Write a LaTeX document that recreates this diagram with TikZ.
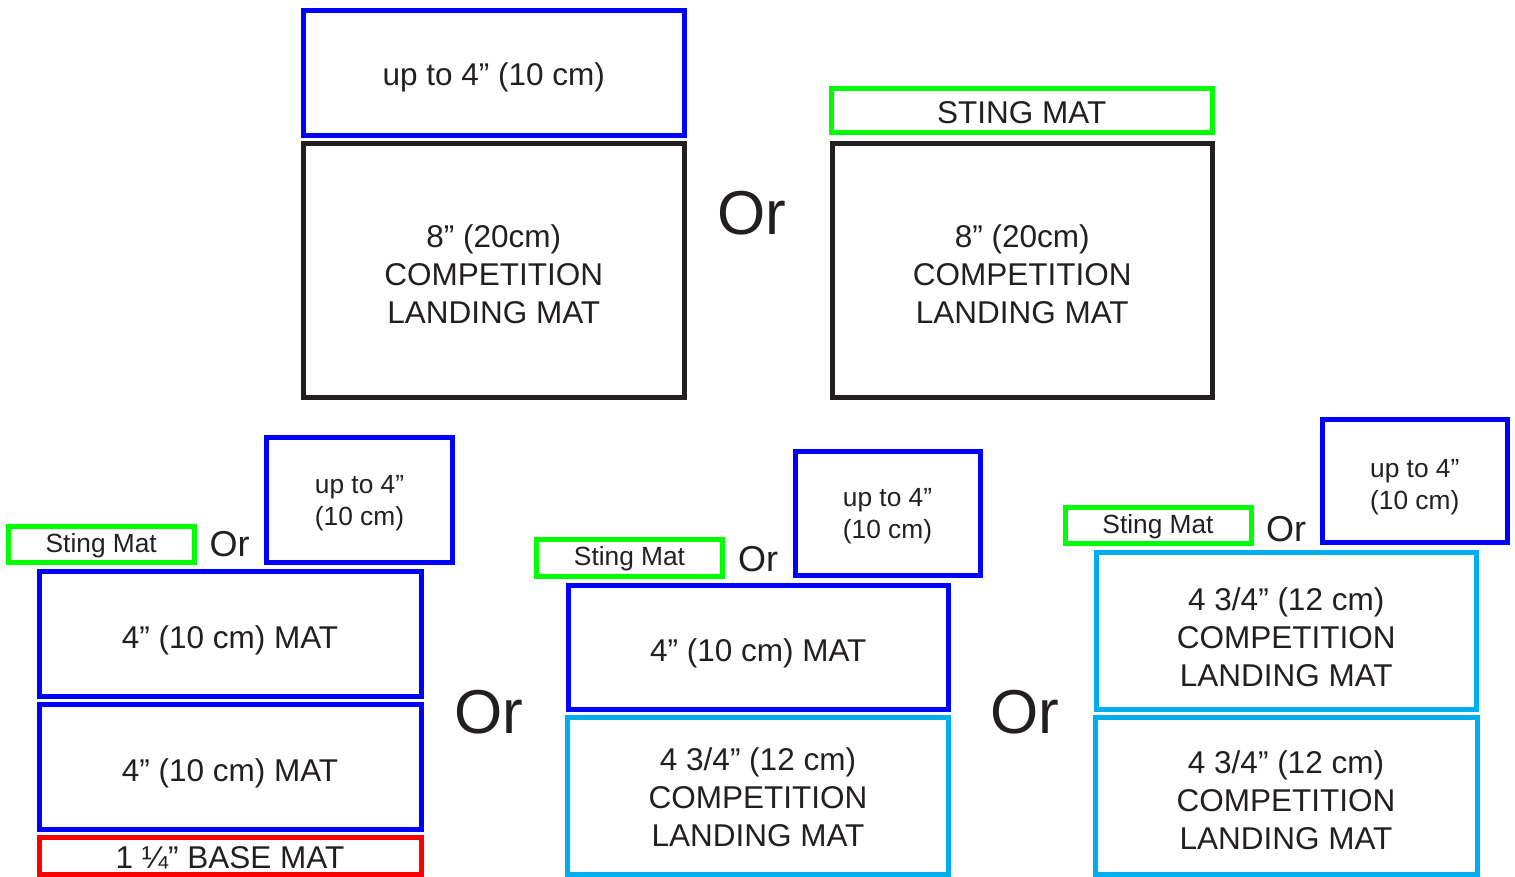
\documentclass[tikz,border=0pt]{standalone}
\usepackage{fontspec}
\setmainfont{Liberation Sans}
\definecolor{ink}{HTML}{231F20}
\definecolor{mblue}{HTML}{0000FF}
\definecolor{mgreen}{HTML}{00FF00}
\definecolor{mred}{HTML}{FF0000}
\definecolor{mcyan}{HTML}{00AEEF}
\begin{document}
\begin{tikzpicture}[x=1pt,y=-1pt,
  matbox/.style={draw, rectangle, line width=5pt, inner sep=0pt},
  bigtxt/.style={inner sep=0pt, align=center, text=ink, font=\fontsize{31.5}{38}\selectfont},
  smalltxt/.style={inner sep=0pt, align=center, text=ink, font=\fontsize{26.3}{32}\selectfont},
  ortext/.style={inner sep=0pt, text=ink, font=\fontsize{36}{40}\selectfont},
  bigor/.style={inner sep=0pt, text=ink, font=\fontsize{62}{70}\selectfont},
  sz/.style 2 args={minimum width=#1pt, minimum height=#2pt}]
\useasboundingbox (0,0) rectangle (1515,877);
% top row
\node[matbox, draw=mblue, sz={380.5}{125}] (tlup) at (493.75,73.5) {};
\node[bigtxt] (tlupt) at ([yshift=-4pt]tlup.center) {up to 4” (10 cm)};
\node[matbox, draw=ink, sz={380.5}{253}] (tlmat) at (493.75,270.5) {};
\node[bigtxt] (tlmatt) at ([yshift=-4pt]tlmat.center) {8” (20cm)\\COMPETITION\\LANDING MAT};
\node[bigor] (or1) at (752,213) {Or};
\node[matbox, draw=mgreen, sz={381.5}{44}] (trsting) at (1021.75,110.5) {};
\node[bigtxt] (trstingt) at ([yshift=-2pt]trsting.center) {STING MAT};
\node[matbox, draw=ink, sz={380.5}{253}] (trmat) at (1022.25,270.5) {};
\node[bigtxt] (trmatt) at ([yshift=-4pt]trmat.center) {8” (20cm)\\COMPETITION\\LANDING MAT};
% bottom left group
\node[matbox, draw=mgreen, sz={185.5}{36.5}] (lsting) at (101.25,544.25) {};
\node[smalltxt] (lstingt) at ([yshift=-1pt]lsting.center) {Sting Mat};
\node[ortext] (lor) at (229.5,544.5) {Or};
\node[matbox, draw=mblue, sz={186}{124.5}] (lup) at (359.5,499.75) {};
\node[smalltxt] (lupt) at ([yshift=-3pt]lup.center) {up to 4”\\(10 cm)};
\node[matbox, draw=mblue, sz={382}{124.5}] (lmat1) at (230,633.75) {};
\node[bigtxt] (lmat1t) at ([yshift=-7pt]lmat1.center) {4” (10 cm) MAT};
\node[matbox, draw=mblue, sz={382}{125}] (lmat2) at (230,766.5) {};
\node[bigtxt] (lmat2t) at ([yshift=-7pt]lmat2.center) {4” (10 cm) MAT};
\node[matbox, draw=mred, sz={382}{36.5}] (lbase) at (230,855.75) {};
\node[bigtxt] (lbaset) at ([yshift=-2pt]lbase.center) {1 ¼” BASE MAT};
\node[bigor] (or2) at (489,712) {Or};
% bottom middle group
\node[matbox, draw=mgreen, sz={186}{37}] (msting) at (629.5,557.5) {};
\node[smalltxt] (mstingt) at ([yshift=-1pt]msting.center) {Sting Mat};
\node[ortext] (mor) at (758,559) {Or};
\node[matbox, draw=mblue, sz={185}{123.5}] (mup) at (887.5,513.25) {};
\node[smalltxt] (mupt) at ([yshift=-3pt]mup.center) {up to 4”\\(10 cm)};
\node[matbox, draw=mblue, sz={380.5}{124}] (mmat) at (758.25,647) {};
\node[bigtxt] (mmatt) at ([yshift=-6pt]mmat.center) {4” (10 cm) MAT};
\node[matbox, draw=mcyan, sz={381}{157}] (mcomp) at (758,795.5) {};
\node[bigtxt] (mcompt) at ([yshift=-2pt]mcomp.center) {4 3/4” (12 cm)\\COMPETITION\\LANDING MAT};
\node[bigor] (or3) at (1025,712) {Or};
% bottom right group
\node[matbox, draw=mgreen, sz={186}{36.5}] (rsting) at (1158,525.25) {};
\node[smalltxt] (rstingt) at ([yshift=-1pt]rsting.center) {Sting Mat};
\node[ortext] (ror) at (1286,529.5) {Or};
\node[matbox, draw=mblue, sz={184.5}{123.5}] (rup) at (1414.75,480.75) {};
\node[smalltxt] (rupt) at ([yshift=-6pt]rup.center) {up to 4”\\(10 cm)};
\node[matbox, draw=mcyan, sz={380.5}{156.5}] (rcomp1) at (1286.25,630.75) {};
\node[bigtxt] (rcomp1t) at ([yshift=-6pt]rcomp1.center) {4 3/4” (12 cm)\\COMPETITION\\LANDING MAT};
\node[matbox, draw=mcyan, sz={382}{156.5}] (rcomp2) at (1286,795.75) {};
\node[bigtxt] (rcomp2t) at ([yshift=-4pt]rcomp2.center) {4 3/4” (12 cm)\\COMPETITION\\LANDING MAT};
\end{tikzpicture}
\end{document}
